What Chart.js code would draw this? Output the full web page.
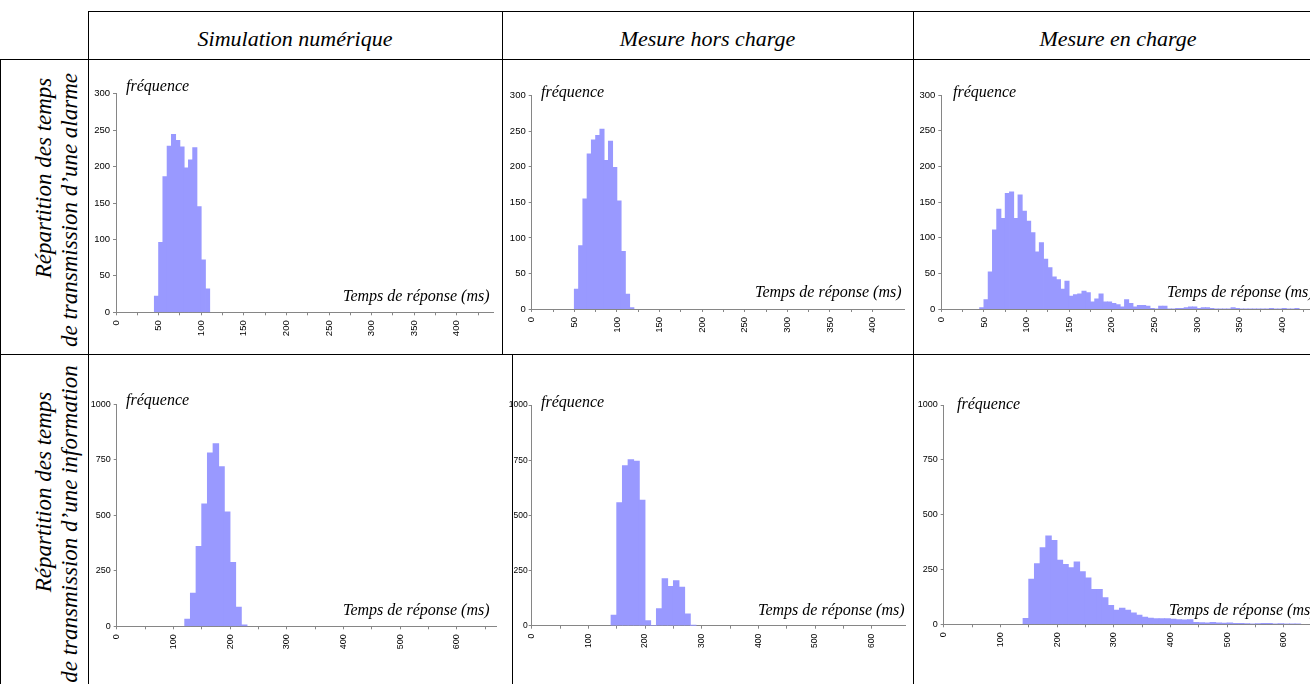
<!DOCTYPE html>
<html lang="fr">
<head>
<meta charset="UTF-8">
<title>Répartition des temps de transmission</title>
<script src="https://cdn.jsdelivr.net/npm/chart.js"></script>
<style>
  body {
    margin: 0;
    width: 1310px;
    height: 684px;
    overflow: hidden;
    background: #fff;
    position: relative;
    font-family: "Liberation Serif", "DejaVu Serif", serif;
  }
  .line { position: absolute; background: #000; z-index: 3; }
  .head, .lab, .rowtxt { position: absolute; font-style: italic; white-space: nowrap; color: #000; }
  .head { font-size: 22px; line-height: 22px; transform: translateX(-50%); }
  .lab { font-size: 16px; line-height: 16px; z-index: 2; }
  .rowtxt { font-size: 23px; line-height: 23px; transform: translate(-50%, -50%) rotate(-90deg); }
  canvas { position: absolute; z-index: 1; }
</style>
</head>
<body>

<script>
// ---- data: bin lower edge of the first bar, bin width, counts per bin ----
const alarmBinWidth = 5;
const infoBinWidth = 10;

// alarme - simulation numérique
const alarmSimStart = 45;
const alarmSimCounts = [22, 96, 186, 228, 244, 236, 227, 198, 209, 226, 145, 72, 32];

// alarme - mesure hors charge
const alarmHorsStart = 50;
const alarmHorsCounts = [28, 89, 155, 218, 238, 244, 253, 209, 236, 199, 152, 81, 21, 2];

// alarme - mesure en charge
const alarmChargeStart = 45;
const alarmChargeCounts = [2, 13, 52, 111, 140, 127, 162, 164, 127, 160, 137, 123, 107, 80, 93, 70, 58, 45, 41, 28,
  39, 18, 20, 21, 25, 23, 10, 14, 21, 10, 10, 8, 6, 3, 13, 8, 3, 5, 5, 4,
  1, 0, 4, 4, 0, 0, 1, 1, 2, 3, 3, 1, 2, 2, 1, 0, 0, 0, 0, 2,
  1, 0, 0, 0, 0, 0, 0, 0, 1, 0, 0, 1, 0, 0, 1];

// information - simulation numérique
const infoSimStart = 120;
const infoSimCounts = [32, 149, 360, 551, 781, 823, 719, 515, 288, 86, 6];

// information - mesure hors charge
const infoHorsStart = 140;
const infoHorsCounts = [48, 557, 725, 752, 746, 569, 23, 0, 77, 213, 178, 204, 175, 53, 1];

// information - mesure en charge
const infoChargeStart = 140;
const infoChargeCounts = [27, 206, 276, 350, 403, 383, 292, 273, 258, 285, 240, 212, 159, 159, 121, 86, 65, 74, 65, 52,
  42, 33, 28, 26, 26, 26, 23, 21, 20, 21, 9, 8, 6, 9, 6, 5, 6, 4, 4, 3,
  2, 3, 4, 4, 2, 3, 2, 2, 2];

const colHeaders = ['Simulation numérique', 'Mesure hors charge', 'Mesure en charge'];
const rowHeaders = [
  ['Répartition des temps', 'de transmission d\u2019une alarme'],
  ['Répartition des temps', 'de transmission d\u2019une information']
];
const yLabel = 'fréquence';
const xLabel = 'Temps de réponse (ms)';

// ---- table frame ----
function addLine(x, y, w, h) {
  const d = document.createElement('div');
  d.className = 'line';
  d.style.left = x + 'px'; d.style.top = y + 'px';
  d.style.width = w + 'px'; d.style.height = h + 'px';
  document.body.appendChild(d);
}
addLine(88, 11, 1240, 1);
addLine(0, 59, 1330, 1);
addLine(0, 354, 1330, 1);
addLine(0, 59, 1, 630);
addLine(88, 11, 1, 680);
addLine(502, 11, 1, 344);
addLine(512, 354, 1, 340);
addLine(913, 11, 1, 680);

function addText(cls, txt, x, y) {
  const d = document.createElement('div');
  d.className = cls;
  d.textContent = txt;
  d.style.left = x + 'px'; d.style.top = y + 'px';
  document.body.appendChild(d);
  return d;
}
[295, 707.5, 1118].forEach((cx, i) => addText('head', colHeaders[i], cx, 28));
[[178, 210], [492, 524]].forEach((ys, r) => {
  addText('rowtxt', rowHeaders[r][0], 43, ys[0]);
  addText('rowtxt', rowHeaders[r][1], 69, ys[1]);
});

// ---- panels ----
const panels = [
  { start: alarmSimStart, counts: alarmSimCounts, bin: alarmBinWidth, yMax: 300, yStep: 50, xMax: 443, xTick: 25, xLab: 50,
    l: 116, t: 93.7, b: 312.3, ppu: 0.852, font: 9.5, yPad: 3, fq: [126, 77.5], tp: [343, 288] },
  { start: alarmHorsStart, counts: alarmHorsCounts, bin: alarmBinWidth, yMax: 300, yStep: 50, xMax: 437, xTick: 25, xLab: 50,
    l: 531.7, t: 95.7, b: 309, ppu: 0.852, font: 9.5, yPad: 3, fq: [541, 83.5], tp: [755, 284] },
  { start: alarmChargeStart, counts: alarmChargeCounts, bin: alarmBinWidth, yMax: 300, yStep: 50, xMax: 445, xTick: 25, xLab: 50,
    l: 941.3, t: 95, b: 309, ppu: 0.852, font: 9.5, yPad: 3, fq: [953, 83.5], tp: [1167, 284] },
  { start: infoSimStart, counts: infoSimCounts, bin: infoBinWidth, yMax: 1000, yStep: 250, xMax: 670, xTick: 50, xLab: 100,
    l: 116.7, t: 404.3, b: 626.3, ppu: 0.5667, font: 9, yPad: 3, fq: [126, 391.5], tp: [343, 601.5] },
  { start: infoHorsStart, counts: infoHorsCounts, bin: infoBinWidth, yMax: 1000, yStep: 250, xMax: 660, xTick: 50, xLab: 100,
    l: 531.7, t: 405, b: 625.7, ppu: 0.5667, font: 8.5, yPad: 1, fq: [541, 394], tp: [758, 601.5] },
  { start: infoChargeStart, counts: infoChargeCounts, bin: infoBinWidth, yMax: 1000, yStep: 250, xMax: 670, xTick: 50, xLab: 100,
    l: 943.7, t: 405, b: 624.3, ppu: 0.5667, font: 9, yPad: 3, fq: [957, 395.5], tp: [1169, 601.5] }
];

const yW = 35, xH = 40;

panels.forEach(p => {
  const r = p.l + p.xMax * p.ppu;
  const bx = Math.floor(p.l) - 45, by = Math.floor(p.t) - 30;
  const bw = Math.ceil(r - bx) + 15, bh = Math.ceil(p.b - by) + 50;
  const c = document.createElement('canvas');
  c.width = bw; c.height = bh;
  c.style.left = bx + 'px'; c.style.top = by + 'px';
  c.style.width = bw + 'px'; c.style.height = bh + 'px';
  document.body.appendChild(c);

  addText('lab', yLabel, p.fq[0], p.fq[1]);
  addText('lab', xLabel, p.tp[0], p.tp[1]);

  const tickFont = { family: '"Liberation Sans", Arial, sans-serif', size: p.font };
  new Chart(c.getContext('2d'), {
    type: 'bar',
    data: {
      datasets: [{
        data: p.counts.map((v, i) => ({ x: p.start + p.bin * i + p.bin / 2, y: v })),
        backgroundColor: '#9999ff',
        borderWidth: 0,
        barPercentage: 1,
        categoryPercentage: 1,
        inflateAmount: 0.4
      }]
    },
    options: {
      responsive: false,
      animation: false,
      devicePixelRatio: 1,
      layout: {
        autoPadding: false,
        padding: { left: p.l - bx - yW, top: p.t - by, right: bw - (r - bx), bottom: bh - (p.b - by) - xH }
      },
      plugins: { legend: { display: false }, tooltip: { enabled: false } },
      scales: {
        x: {
          type: 'linear',
          min: 0, max: p.xMax,
          offset: false,
          grid: { offset: false, drawOnChartArea: false, drawTicks: true, tickLength: 3, color: '#868686' },
          border: { color: '#868686' },
          ticks: {
            stepSize: p.xTick, autoSkip: false, minRotation: 90, maxRotation: 90, padding: 5,
            color: '#000', font: tickFont,
            callback: v => (v % p.xLab === 0 ? String(v) : '')
          },
          afterBuildTicks: s => { s.ticks = s.ticks.filter(t => t.value % p.xTick === 0); },
          afterFit: s => { s.height = xH; }
        },
        y: {
          min: 0, max: p.yMax,
          grid: { drawOnChartArea: false, drawTicks: true, tickLength: 3, color: '#868686' },
          border: { color: '#868686' },
          ticks: { stepSize: p.yStep, padding: p.yPad, color: '#000', font: tickFont, callback: v => String(v) },
          afterFit: s => { s.width = yW; }
        }
      }
    }
  });
});
</script>
</body>
</html>
